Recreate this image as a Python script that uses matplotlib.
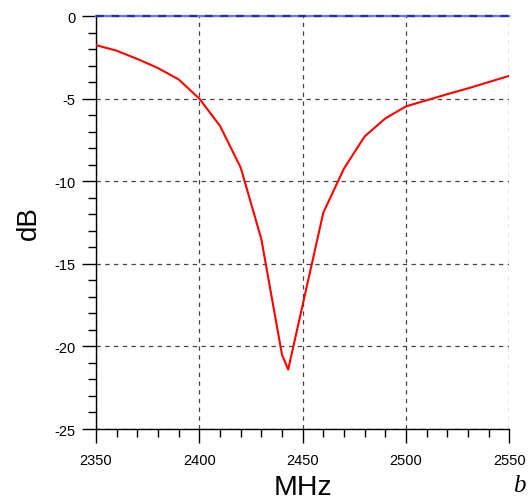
import matplotlib
matplotlib.use("Agg")
import matplotlib.pyplot as plt
from matplotlib.ticker import MultipleLocator

freq_mhz = [2350, 2360, 2370, 2380, 2390, 2400, 2410, 2420, 2430, 2440, 2443,
            2460, 2470, 2480, 2490, 2500, 2510, 2520, 2530, 2540, 2550]
s11_db = [-1.76, -2.10, -2.60, -3.15, -3.84, -5.00, -6.65, -9.17, -13.5, -20.5, -21.4,
          -11.9, -9.23, -7.29, -6.20, -5.47, -5.10, -4.73, -4.38, -4.00, -3.62]
ref_freq = [2350, 2550]
ref_db = [0, 0]

x_ticks = [2350, 2400, 2450, 2500, 2550]
y_ticks = [0, -5, -10, -15, -20, -25]

plt.rcParams['font.family'] = ['Liberation Sans', 'DejaVu Sans']

fig = plt.figure(figsize=(5.30, 5.02), dpi=100)
ax = fig.add_axes([0.1811, 0.1434, 0.9610 - 0.1811, 0.9661 - 0.1434])

ax.set_xlim(2350, 2550)
ax.set_ylim(-25, 0)

ax.set_xticks(x_ticks)
ax.set_yticks(y_ticks)
ax.set_xticklabels([str(v) for v in x_ticks])
ax.set_yticklabels([str(v) for v in y_ticks])
ax.xaxis.set_minor_locator(MultipleLocator(10))
ax.yaxis.set_minor_locator(MultipleLocator(1))

ax.grid(True, which='major', color='#444444', linestyle=(0, (3.5, 3.5)), linewidth=0.9)
ax.set_axisbelow(True)

for s in ['top', 'right']:
    ax.spines[s].set_visible(False)
for s in ['left', 'bottom']:
    ax.spines[s].set_color('black')
    ax.spines[s].set_linewidth(1.0)

ax.tick_params(axis='both', which='major', direction='out', length=10, width=1.0,
               color='black', labelsize=10.5, labelcolor='black')
ax.tick_params(axis='y', which='major', pad=5)
ax.tick_params(axis='x', which='major', pad=7)
ax.tick_params(axis='both', which='minor', direction='out', length=5.5, width=1.0, color='black')

ax.plot(ref_freq, ref_db, color='#7070ff', linewidth=1.6, clip_on=False, zorder=4)
ax.plot(ref_freq, ref_db, color='#2a2ab0', linewidth=1.6, linestyle=(0, (3.5, 3.5)),
        clip_on=False, zorder=5)
ax.plot(freq_mhz, s11_db, color='#ff0000', linewidth=1.5, zorder=6)

ax.set_xlabel('MHz', fontsize=20.5, labelpad=5)
ax.set_ylabel('dB', fontsize=20, labelpad=9)

fig.text(0.979, 0.031, 'b', fontsize=18, style='italic',
         family=['Liberation Serif', 'DejaVu Serif'], ha='center', va='center')

fig.savefig('out.png', dpi=100)
